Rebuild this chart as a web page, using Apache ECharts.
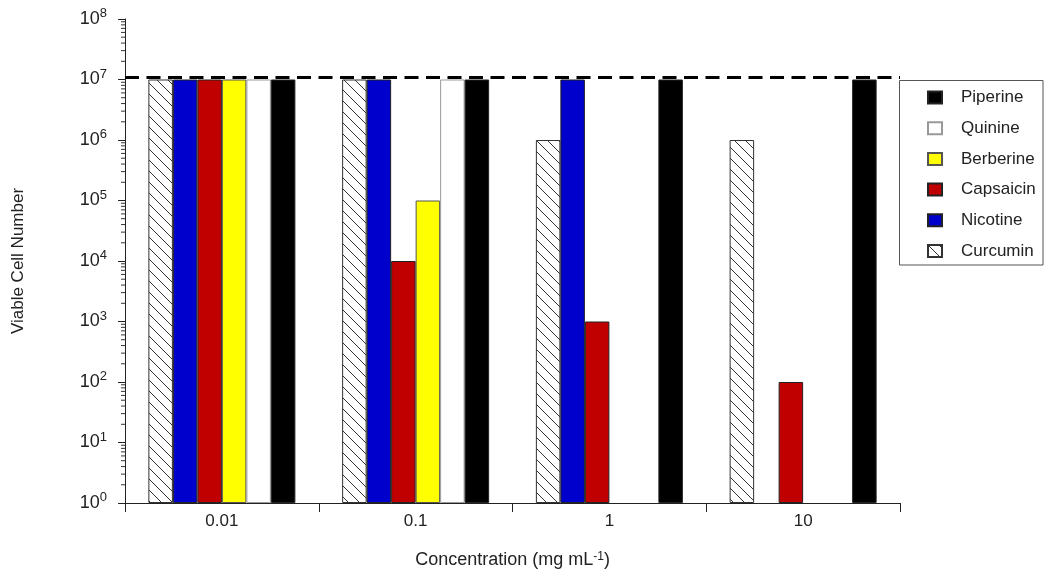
<!DOCTYPE html>
<html>
<head>
<meta charset="utf-8">
<script src="https://cdn.jsdelivr.net/npm/echarts@6/dist/echarts.min.js"></script>
<style>
html,body{margin:0;padding:0;background:#fff;}
#chart{width:1050px;height:579px;}
</style>
</head>
<body>
<div id="chart"></div>
<script>
// ---- data ----
const categories = ['0.01', '0.1', '1', '10'];
const curcumin  = [1e7, 1e7, 1e6, 1e6];
const nicotine  = [1e7, 1e7, 1e7, null];
const capsaicin = [1e7, 1e4, 1e3, 1e2];
const berberine = [1e7, 1e5, null, null];
const quinine   = [1e7, 1e7, null, null];
const piperine  = [1e7, 1e7, 1e7, 1e7];
const thresholdValue = 1.1e7;
const legendOrder = ['Piperine', 'Quinine', 'Berberine', 'Capsaicin', 'Nicotine', 'Curcumin'];
const yDecades = [0, 1, 2, 3, 4, 5, 6, 7];
const minorMultipliers = [2, 3, 4, 5, 6, 7, 8, 9];

// hatch pattern for Curcumin
const P = 11;
const cv = document.createElement('canvas');
cv.width = P; cv.height = P;
const cx = cv.getContext('2d');
cx.fillStyle = '#fff'; cx.fillRect(0, 0, P, P);
cx.strokeStyle = '#333'; cx.lineWidth = 1;
cx.beginPath();
cx.moveTo(-1, -1); cx.lineTo(P + 1, P + 1);
cx.moveTo(-1 - P, -1); cx.lineTo(1, P + 1);
cx.moveTo(P - 1, -1); cx.lineTo(2 * P + 1, P + 1);
cx.stroke();

const minorTickData = [];
yDecades.forEach(d => minorMultipliers.forEach(m => minorTickData.push([0, m * Math.pow(10, d)])));

const textColor = '#222';
const font = 'Liberation Sans, Arial, Helvetica, sans-serif';

function barSeries(name, data, color, border) {
  return {
    name: name, type: 'bar', data: data.map(v => v == null ? '-' : v),
    barWidth: 24.5, barGap: '0%',
    itemStyle: { color: color, borderColor: border || '#222', borderWidth: 1 },
    emphasis: { disabled: true }
  };
}

const series = [
  barSeries('Curcumin', curcumin, { image: cv, repeat: 'repeat' }, '#333'),
  barSeries('Nicotine', nicotine, '#0000cc'),
  barSeries('Capsaicin', capsaicin, '#c00000'),
  barSeries('Berberine', berberine, '#ffff00', '#555'),
  barSeries('Quinine', quinine, '#ffffff', '#999'),
  barSeries('Piperine', piperine, '#000000'),
  {
    type: 'line', data: [], silent: true, z: 10,
    markLine: {
      silent: true, symbol: 'none', label: { show: false },
      lineStyle: { color: '#000', width: 3, type: [14, 7.5] },
      data: [{ yAxis: thresholdValue }]
    }
  },
  {
    type: 'custom', silent: true, z: 10, clip: false,
    data: minorTickData,
    renderItem: function (params, api) {
      const y = api.coord([0, api.value(1)])[1];
      const x0 = params.coordSys.x;
      return { type: 'line', shape: { x1: x0 - 4, y1: y, x2: x0, y2: y },
               style: { stroke: '#333', lineWidth: 1 } };
    }
  }
];

const chart = echarts.init(document.getElementById('chart'), null, { renderer: 'canvas' });
chart.setOption({
  animation: false,
  backgroundColor: '#fff',
  textStyle: { fontFamily: font, color: textColor },
  grid: { left: 125, right: 150, top: 19, bottom: 76, containLabel: false },
  legend: {
    data: legendOrder, orient: 'vertical', left: 927, top: 89, padding: 0,
    itemWidth: 14, itemHeight: 12, itemGap: 13.7, icon: 'rect',
    textStyle: { fontSize: 17, color: textColor, fontFamily: font, padding: [0, 0, 0, 14], lineHeight: 17 }
  },
  graphic: [{
    type: 'rect', silent: true,
    shape: { x: 899.5, y: 80.5, width: 143.5, height: 184.5 },
    style: { fill: 'none', stroke: '#555', lineWidth: 1 }
  }],
  xAxis: {
    type: 'category', data: categories,
    axisLine: { lineStyle: { color: '#222', width: 1 } },
    axisTick: { show: true, length: 9, lineStyle: { color: '#222' } },
    axisLabel: { fontSize: 17, color: textColor, margin: 10, fontFamily: font },
    name: 'Concentration (mg mL{s|-1})', nameLocation: 'middle', nameGap: 48,
    nameTextStyle: {
      fontSize: 18, color: textColor, fontFamily: font,
      rich: { s: { fontSize: 12, verticalAlign: 'top', color: textColor, fontFamily: font } }
    }
  },
  yAxis: {
    type: 'log', logBase: 10, min: 1, max: 1e8, interval: 1,
    axisLine: { show: true, lineStyle: { color: '#222', width: 1 } },
    axisTick: { show: true, length: 7, lineStyle: { color: '#222' } },
    splitLine: { show: false },
    axisLabel: {
      margin: 18, color: textColor,
      formatter: function (v) { return '{b|10}{s|' + Math.round(Math.log10(v)) + '}'; },
      rich: {
        b: { fontSize: 18, lineHeight: 24, color: textColor, fontFamily: font },
        s: { fontSize: 13, lineHeight: 13, verticalAlign: 'top', color: textColor, fontFamily: font }
      }
    },
    name: 'Viable Cell Number', nameLocation: 'middle', nameGap: 98, nameRotate: 90,
    nameTextStyle: { fontSize: 17, color: textColor, fontFamily: font }
  },
  series: series
});
</script>
</body>
</html>
